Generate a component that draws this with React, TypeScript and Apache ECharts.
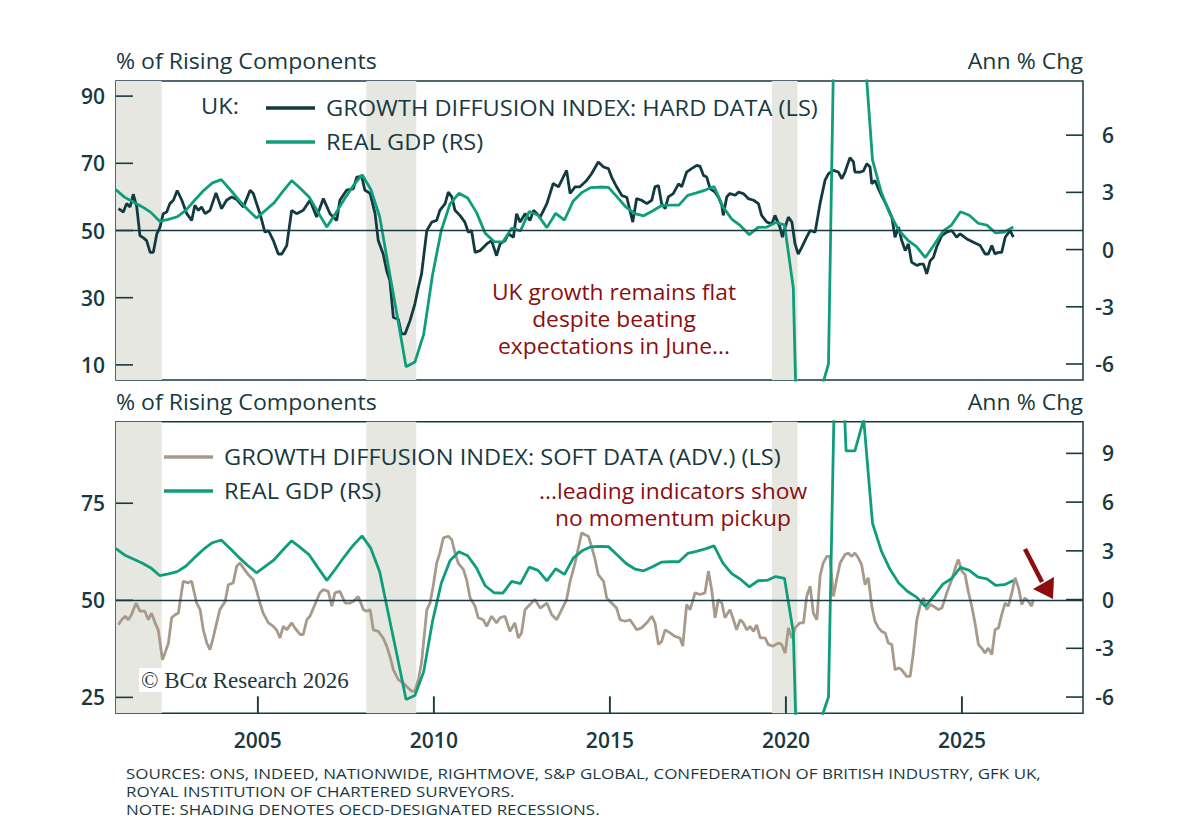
import React, { useEffect, useRef } from "react";
import * as echarts from "echarts";

// ---------- DATA ----------
const X_MIN = 2000.97;
const X_MAX = 2028.44;
const YEAR_TICKS = [2005, 2010, 2015, 2020, 2025];

const TOP_LEFT_TICKS = [10, 30, 50, 70, 90];
const TOP_RIGHT_TICKS = [-6, -3, 0, 3, 6];
const BOT_LEFT_TICKS = [25, 50, 75];
const BOT_RIGHT_TICKS = [-6, -3, 0, 3, 6, 9];

const RECESSIONS: [number, number][] = [
  [2000.97, 2002.27],
  [2008.08, 2009.5],
  [2019.6, 2020.33],
];

// Growth diffusion index: hard data (% of rising components)
const HARD_DATA: [number, number][] = [
  [2001.04, 56.5], [2001.18, 55.5], [2001.27, 58.0], [2001.37, 57.0], [2001.46, 60.8], [2001.56, 57.0],
  [2001.65, 48.5], [2001.75, 47.8], [2001.84, 47.0], [2001.94, 43.5], [2002.03, 43.5], [2002.13, 49.0],
  [2002.22, 51.0], [2002.31, 55.0], [2002.41, 55.5], [2002.5, 58.0], [2002.6, 59.0], [2002.71, 61.9],
  [2002.84, 59.0], [2002.98, 55.0], [2003.12, 53.0], [2003.21, 57.5], [2003.31, 56.0], [2003.4, 57.0],
  [2003.5, 55.0], [2003.64, 56.0], [2003.81, 61.2], [2003.97, 56.5], [2004.11, 59.0], [2004.26, 60.0],
  [2004.4, 59.2], [2004.59, 57.0], [2004.78, 62.0], [2004.87, 61.0], [2005.06, 55.0], [2005.2, 49.5],
  [2005.3, 50.0], [2005.44, 47.0], [2005.58, 43.0], [2005.68, 43.0], [2005.82, 45.5], [2005.96, 56.0],
  [2006.1, 55.0], [2006.29, 56.0], [2006.48, 59.0], [2006.67, 54.0], [2006.86, 59.5], [2007.05, 55.0],
  [2007.24, 53.0], [2007.33, 59.0], [2007.52, 62.0], [2007.71, 62.4], [2007.81, 65.9], [2007.95, 66.1],
  [2008.04, 62.0], [2008.19, 61.0], [2008.33, 55.0], [2008.42, 47.0], [2008.56, 43.0], [2008.66, 38.0],
  [2008.75, 35.1], [2008.85, 24.1], [2008.99, 23.6], [2009.08, 19.2], [2009.18, 19.2], [2009.32, 23.1],
  [2009.46, 28.1], [2009.56, 33.1], [2009.65, 37.1], [2009.8, 50.0], [2009.94, 52.5], [2010.08, 53.0],
  [2010.17, 56.0], [2010.32, 58.0], [2010.41, 61.4], [2010.51, 60.0], [2010.6, 56.0], [2010.74, 54.5],
  [2010.88, 52.5], [2010.98, 49.5], [2011.07, 50.0], [2011.17, 43.5], [2011.31, 44.0], [2011.5, 46.0],
  [2011.64, 47.0], [2011.78, 42.5], [2011.88, 46.0], [2012.02, 47.0], [2012.12, 49.0], [2012.26, 48.0],
  [2012.35, 55.0], [2012.45, 52.5], [2012.59, 55.0], [2012.73, 53.0], [2012.83, 56.0], [2013.02, 54.0],
  [2013.21, 58.0], [2013.39, 64.0], [2013.54, 63.0], [2013.63, 64.9], [2013.77, 67.9], [2013.87, 61.0],
  [2014.01, 63.0], [2014.15, 63.0], [2014.34, 64.9], [2014.48, 66.9], [2014.67, 70.4], [2014.82, 68.9],
  [2014.96, 68.4], [2015.05, 65.9], [2015.19, 63.0], [2015.34, 60.4], [2015.48, 59.9], [2015.57, 56.0],
  [2015.65, 52.5], [2015.76, 59.5], [2015.9, 59.0], [2016.05, 58.0], [2016.19, 59.0], [2016.28, 63.0],
  [2016.38, 63.4], [2016.47, 58.0], [2016.57, 56.5], [2016.66, 60.0], [2016.8, 61.0], [2016.95, 63.9],
  [2017.04, 63.0], [2017.18, 67.4], [2017.32, 68.4], [2017.47, 69.4], [2017.56, 69.1], [2017.66, 66.4],
  [2017.75, 65.9], [2017.85, 62.4], [2017.99, 61.4], [2018.08, 60.0], [2018.18, 57.5], [2018.22, 54.5],
  [2018.32, 60.0], [2018.41, 61.0], [2018.56, 60.5], [2018.65, 61.4], [2018.79, 61.0], [2018.93, 59.5],
  [2019.08, 59.0], [2019.22, 58.0], [2019.31, 54.5], [2019.46, 52.5], [2019.6, 52.0], [2019.69, 54.5],
  [2019.83, 51.0], [2019.9, 48.0], [2019.98, 51.0], [2020.07, 54.0], [2020.17, 52.5], [2020.26, 46.0],
  [2020.35, 43.0], [2020.45, 45.0], [2020.59, 48.0], [2020.69, 50.0], [2020.83, 49.5], [2020.97, 58.0],
  [2021.11, 64.9], [2021.21, 66.9], [2021.35, 67.9], [2021.49, 67.4], [2021.59, 65.4], [2021.68, 67.4],
  [2021.82, 71.7], [2021.92, 70.4], [2021.96, 67.4], [2022.11, 67.4], [2022.2, 67.7], [2022.3, 69.9],
  [2022.39, 68.9], [2022.44, 63.9], [2022.53, 64.9], [2022.63, 62.4], [2022.72, 60.4], [2022.86, 57.5],
  [2023.01, 54.0], [2023.1, 48.0], [2023.2, 51.0], [2023.29, 47.0], [2023.39, 44.0], [2023.48, 46.0],
  [2023.57, 40.6], [2023.72, 39.6], [2023.81, 40.0], [2023.91, 40.0], [2024.0, 37.1], [2024.1, 41.0],
  [2024.19, 42.0], [2024.28, 45.0], [2024.43, 48.5], [2024.57, 49.5], [2024.71, 50.0], [2024.85, 48.0],
  [2024.95, 49.0], [2025.14, 47.5], [2025.33, 46.5], [2025.52, 45.5], [2025.66, 43.0], [2025.75, 43.0],
  [2025.85, 45.5], [2025.94, 43.0], [2026.04, 43.5], [2026.13, 43.5], [2026.23, 48.0], [2026.37, 50.0],
  [2026.46, 48.0],
];

// Growth diffusion index: soft data (advanced)
const SOFT_DATA: [number, number][] = [
  [2001.04, 43.7], [2001.13, 45.0], [2001.23, 45.9], [2001.32, 45.0], [2001.41, 46.3], [2001.54, 49.3],
  [2001.65, 47.2], [2001.79, 47.2], [2001.89, 45.0], [2001.98, 46.7], [2002.08, 44.2], [2002.17, 42.4],
  [2002.29, 34.7], [2002.36, 36.4], [2002.46, 39.0], [2002.55, 45.5], [2002.65, 46.3], [2002.74, 46.7],
  [2002.88, 54.9], [2003.02, 54.5], [2003.12, 54.9], [2003.26, 49.3], [2003.36, 47.6], [2003.45, 42.4],
  [2003.55, 39.0], [2003.64, 37.3], [2003.73, 40.3], [2003.83, 44.2], [2003.92, 47.6], [2004.07, 49.7],
  [2004.16, 54.0], [2004.3, 54.5], [2004.4, 58.8], [2004.49, 59.6], [2004.59, 58.3], [2004.73, 56.6],
  [2004.87, 55.3], [2004.97, 52.3], [2005.06, 49.3], [2005.15, 46.7], [2005.3, 44.2], [2005.44, 43.3],
  [2005.53, 42.4], [2005.63, 40.3], [2005.72, 43.3], [2005.82, 42.4], [2005.96, 44.2], [2006.05, 42.9],
  [2006.2, 41.2], [2006.29, 41.2], [2006.39, 45.0], [2006.48, 45.9], [2006.62, 48.9], [2006.76, 51.9],
  [2006.86, 52.8], [2007.0, 52.3], [2007.1, 48.5], [2007.19, 51.9], [2007.33, 52.3], [2007.48, 49.3],
  [2007.62, 49.3], [2007.71, 49.7], [2007.85, 51.0], [2008.0, 47.6], [2008.09, 47.2], [2008.19, 47.6],
  [2008.28, 42.4], [2008.42, 42.0], [2008.56, 40.3], [2008.66, 38.2], [2008.75, 35.6], [2008.85, 32.1],
  [2008.99, 29.6], [2009.13, 28.7], [2009.27, 27.4], [2009.37, 26.6], [2009.46, 26.6], [2009.56, 29.6],
  [2009.65, 33.9], [2009.8, 47.6], [2009.89, 49.3], [2009.98, 53.6], [2010.08, 59.6], [2010.17, 62.2],
  [2010.27, 66.1], [2010.41, 66.5], [2010.51, 65.6], [2010.6, 62.2], [2010.69, 59.6], [2010.84, 57.9],
  [2010.93, 55.3], [2011.03, 50.6], [2011.17, 48.5], [2011.26, 45.5], [2011.4, 45.0], [2011.5, 43.3],
  [2011.64, 45.9], [2011.78, 44.2], [2011.88, 45.5], [2012.02, 45.9], [2012.16, 42.0], [2012.3, 44.2],
  [2012.4, 40.3], [2012.49, 41.6], [2012.59, 47.6], [2012.73, 48.9], [2012.87, 50.2], [2013.02, 48.0],
  [2013.21, 49.3], [2013.35, 46.3], [2013.49, 45.0], [2013.63, 47.6], [2013.77, 50.2], [2013.87, 54.9],
  [2014.01, 59.6], [2014.2, 67.4], [2014.29, 66.9], [2014.39, 66.5], [2014.48, 63.9], [2014.58, 60.5],
  [2014.67, 56.6], [2014.82, 54.9], [2014.91, 50.6], [2015.05, 49.3], [2015.19, 48.0], [2015.29, 45.0],
  [2015.43, 44.6], [2015.57, 45.0], [2015.67, 43.7], [2015.76, 42.4], [2015.9, 42.9], [2016.05, 44.2],
  [2016.19, 45.9], [2016.28, 44.2], [2016.38, 38.6], [2016.47, 39.4], [2016.57, 42.4], [2016.71, 41.6],
  [2016.85, 40.7], [2016.99, 40.3], [2017.07, 38.2], [2017.18, 48.9], [2017.28, 47.6], [2017.42, 51.9],
  [2017.56, 51.5], [2017.7, 51.9], [2017.8, 57.5], [2017.89, 52.8], [2017.99, 45.5], [2018.08, 50.2],
  [2018.18, 49.3], [2018.27, 45.5], [2018.41, 47.6], [2018.51, 45.0], [2018.6, 42.4], [2018.7, 45.0],
  [2018.79, 44.2], [2018.89, 42.4], [2018.98, 43.3], [2019.08, 42.0], [2019.17, 43.7], [2019.27, 40.3],
  [2019.41, 40.3], [2019.5, 38.6], [2019.64, 38.2], [2019.79, 39.0], [2019.88, 38.6], [2019.98, 36.4],
  [2020.07, 42.9], [2020.17, 40.3], [2020.26, 42.9], [2020.4, 44.2], [2020.5, 44.2], [2020.59, 51.0],
  [2020.69, 53.6], [2020.78, 46.7], [2020.88, 45.0], [2020.97, 56.2], [2021.06, 59.6], [2021.16, 61.3],
  [2021.25, 61.3], [2021.35, 51.0], [2021.44, 55.3], [2021.54, 59.6], [2021.68, 61.8], [2021.77, 62.2],
  [2021.87, 61.3], [2021.96, 62.2], [2022.06, 60.9], [2022.15, 59.2], [2022.25, 54.0], [2022.34, 55.8],
  [2022.44, 48.5], [2022.53, 44.6], [2022.63, 42.9], [2022.72, 42.0], [2022.82, 41.6], [2022.91, 39.0],
  [2023.01, 38.6], [2023.1, 32.1], [2023.2, 32.6], [2023.29, 32.1], [2023.43, 30.4], [2023.53, 30.4],
  [2023.62, 36.4], [2023.72, 45.0], [2023.81, 48.5], [2023.91, 50.6], [2024.0, 47.6], [2024.1, 48.9],
  [2024.19, 48.5], [2024.33, 47.6], [2024.43, 48.0], [2024.57, 51.9], [2024.71, 55.3], [2024.81, 58.3],
  [2024.9, 60.5], [2025.0, 57.5], [2025.09, 56.6], [2025.18, 52.3], [2025.28, 48.5], [2025.37, 44.2],
  [2025.47, 38.6], [2025.56, 37.7], [2025.66, 36.4], [2025.75, 37.7], [2025.85, 36.0], [2025.94, 42.4],
  [2026.04, 42.9], [2026.13, 46.3], [2026.23, 49.3], [2026.32, 48.5], [2026.42, 51.9], [2026.51, 55.8],
  [2026.61, 53.2], [2026.7, 48.9], [2026.79, 50.6], [2026.89, 49.7], [2026.98, 48.5], [2027.03, 50.2],
];

// Real GDP, annual % change, quarterly (first quarter plotted at 2000.96)
const GDP_FIRST_QUARTER = 2000.96;
const GDP_VALUES = [
  3.15,
  2.75, 2.5, 2.25, 1.95,
  1.48, 1.58, 1.72, 2.07,
  2.6, 3.1, 3.5, 3.67,
  3.15, 2.6, 2.1, 1.65,
  2.05, 2.45, 3.05, 3.62,
  3.2, 2.75, 1.95, 1.18,
  1.9, 2.65, 3.35, 3.92,
  3.15, 1.72, -0.9, -3.5,
  -6.15, -5.9, -4.45, -1.35,
  1.0, 2.4, 2.95, 2.7,
  1.95, 0.85, 0.42, 0.4,
  1.12, 0.98, 2.0, 1.8,
  1.15, 1.9, 1.55, 2.55,
  3.0, 3.25, 3.28, 3.26,
  2.75, 2.22, 1.88, 1.77,
  2.02, 2.3, 2.33, 2.33,
  2.84, 2.97, 3.12, 3.31,
  2.25, 1.6, 1.25, 0.78,
  1.16, 1.18, 1.42, 1.3,
  -2.0, -21.0, -8.6, -7.6,
  -6.0, 22.0, 9.15, 9.15,
  11.1, 4.7, 3.0, 1.85,
  1.0, 0.5, 0.15, -0.42,
  0.25, 0.95, 1.3, 1.98,
  1.8, 1.38, 1.28, 0.87,
  0.92, 1.18,
];
const GDP_DATES = GDP_VALUES.map((_, i) => GDP_FIRST_QUARTER + i * 0.25);

// ---------- STYLE ----------
const INK = "#18393f";
const DARK_LINE = "#123a40";
const GREEN = "#0f9e7b";
const TAN = "#a89a8b";
const SHADE = "#e6e7e1";
const RED = "#8c0d0d";
const FONT = "'Open Sans', Lato, sans-serif";

const GDP_DATA = GDP_DATES.map((d, i) => [d, GDP_VALUES[i]]);

// panel geometry and axis ranges
const GRID_LEFT = 116;
const GRID_W = 967;
const TOP_GRID_TOP = 81;
const TOP_GRID_H = 299;
const BOT_GRID_TOP = 421.7;
const BOT_GRID_H = 291.6;
const TOP_L = [5.5, 94.5];
const TOP_R = [-6.84, 8.84];
const BOT_L = [20.9, 96.0];
const BOT_R = [-7.0, 10.95];
const TICK_LEN = 17;

function recessionAreas() {
  return RECESSIONS.map(([a, b]) => [{ xAxis: a }, { xAxis: b }]);
}

// inward tick marks along the panel frames (axis decorations)
function tickMarks() {
  const els: any[] = [];
  const tick = (x1: number, y1: number, x2: number, y2: number, w = 1.6) =>
    els.push({ type: "line", z: 90, shape: { x1, y1, x2, y2 }, style: { stroke: INK, lineWidth: w } });
  const yPos = (v: number, range: number[], top: number, h: number) =>
    top + ((range[1] - v) / (range[1] - range[0])) * h;
  const right = GRID_LEFT + GRID_W;
  TOP_LEFT_TICKS.forEach((v) => {
    const y = yPos(v, TOP_L, TOP_GRID_TOP, TOP_GRID_H);
    tick(GRID_LEFT, y, GRID_LEFT + TICK_LEN, y);
  });
  TOP_RIGHT_TICKS.forEach((v) => {
    const y = yPos(v, TOP_R, TOP_GRID_TOP, TOP_GRID_H);
    tick(right - TICK_LEN, y, right, y);
  });
  BOT_LEFT_TICKS.forEach((v) => {
    const y = yPos(v, BOT_L, BOT_GRID_TOP, BOT_GRID_H);
    tick(GRID_LEFT, y, GRID_LEFT + TICK_LEN, y);
  });
  BOT_RIGHT_TICKS.forEach((v) => {
    const y = yPos(v, BOT_R, BOT_GRID_TOP, BOT_GRID_H);
    tick(right - TICK_LEN, y, right, y);
  });
  const base = BOT_GRID_TOP + BOT_GRID_H;
  YEAR_TICKS.forEach((yr) => {
    const x = GRID_LEFT + ((yr - X_MIN) / (X_MAX - X_MIN)) * GRID_W;
    tick(x, base, x, base - TICK_LEN, 1.9);
  });
  return els;
}

function buildOption() {
  const yLabel = (align: string, margin: number, ticks: number[]) => ({
    customValues: ticks,
    color: INK,
    fontFamily: FONT,
    fontSize: 21,
    fontWeight: 600,
    margin,
    align,
  });
  const commonY = {
    type: "value",
    axisLine: { show: false },
    axisTick: { show: false },
    splitLine: { show: false },
  };
  const text = (
    t: string,
    x: number,
    y: number,
    size: number,
    color: string,
    align = "left",
    sx = 1,
    extra: any = {},
    family = FONT
  ) => ({
    type: "text",
    x,
    y,
    scaleX: sx,
    z: 100,
    style: {
      text: t,
      fill: color,
      font: `normal ${size}px ${family}`,
      textAlign: align,
      textVerticalAlign: "middle",
      align,
      verticalAlign: "middle",
      ...extra,
    },
  });
  const seg = (x1: number, x2: number, y: number, color: string) => ({
    type: "line",
    z: 100,
    shape: { x1, y1: y, x2, y2: y },
    style: { stroke: color, lineWidth: 3.5 },
  });

  const TITLE_SX = 1.1;
  const LEG_SX = 1.125;
  const ANN_SX = 1.06;
  const SRC_SX = 1.13;

  return {
    animation: false,
    backgroundColor: "#ffffff",
    textStyle: { fontFamily: FONT },
    grid: [
      {
        left: GRID_LEFT, top: TOP_GRID_TOP, width: GRID_W, height: TOP_GRID_H,
        show: true, borderColor: INK, borderWidth: 1.5, backgroundColor: "transparent",
      },
      {
        left: GRID_LEFT, top: BOT_GRID_TOP, width: GRID_W, height: BOT_GRID_H,
        show: true, borderColor: INK, borderWidth: 1.5, backgroundColor: "transparent",
      },
    ],
    xAxis: [
      {
        type: "value", gridIndex: 0, min: X_MIN, max: X_MAX,
        axisLine: { show: false, onZero: false }, axisTick: { show: false },
        axisLabel: { show: false }, splitLine: { show: false },
      },
      {
        type: "value", gridIndex: 1, min: X_MIN, max: X_MAX, position: "bottom",
        axisLine: { show: false, onZero: false },
        axisTick: { show: false },
        axisLabel: {
          customValues: YEAR_TICKS,
          formatter: (v: number) => String(v),
          color: INK, fontFamily: FONT, fontSize: 21, fontWeight: 600, margin: 16,
        },
        splitLine: { show: false },
      },
    ],
    yAxis: [
      {
        ...commonY, gridIndex: 0, position: "left", min: TOP_L[0], max: TOP_L[1],
        axisLabel: yLabel("right", 11, TOP_LEFT_TICKS),
      },
      {
        ...commonY, gridIndex: 0, position: "right", min: TOP_R[0], max: TOP_R[1],
        axisLabel: yLabel("right", 31, TOP_RIGHT_TICKS),
      },
      {
        ...commonY, gridIndex: 1, position: "left", min: BOT_L[0], max: BOT_L[1],
        axisLabel: yLabel("right", 11, BOT_LEFT_TICKS),
      },
      {
        ...commonY, gridIndex: 1, position: "right", min: BOT_R[0], max: BOT_R[1],
        axisLabel: yLabel("right", 31, BOT_RIGHT_TICKS),
      },
    ],
    series: [
      {
        name: "shade-top", type: "line", xAxisIndex: 0, yAxisIndex: 0, z: 1,
        data: HARD_DATA, showSymbol: false, silent: true,
        lineStyle: { opacity: 0 },
        markArea: { silent: true, itemStyle: { color: SHADE }, data: recessionAreas() },
        markLine: {
          silent: true, symbol: "none", label: { show: false },
          lineStyle: { color: INK, width: 1.3, type: "solid" },
          data: [{ yAxis: 50 }],
        },
      },
      {
        name: "GROWTH DIFFUSION INDEX: HARD DATA (LS)", type: "line",
        xAxisIndex: 0, yAxisIndex: 0, z: 3,
        data: HARD_DATA, showSymbol: false,
        lineStyle: { color: DARK_LINE, width: 2.8 }, itemStyle: { color: DARK_LINE },
      },
      {
        name: "REAL GDP (RS)", type: "line", xAxisIndex: 0, yAxisIndex: 1, z: 4,
        data: GDP_DATA, showSymbol: false,
        lineStyle: { color: GREEN, width: 2.8 }, itemStyle: { color: GREEN },
      },
      {
        name: "shade-bottom", type: "line", xAxisIndex: 1, yAxisIndex: 2, z: 1,
        data: SOFT_DATA, showSymbol: false, silent: true,
        lineStyle: { opacity: 0 },
        markArea: { silent: true, itemStyle: { color: SHADE }, data: recessionAreas() },
        markLine: {
          silent: true, symbol: "none", label: { show: false },
          lineStyle: { color: INK, width: 1.3, type: "solid" },
          data: [{ yAxis: 50 }],
        },
      },
      {
        name: "GROWTH DIFFUSION INDEX: SOFT DATA (ADV.) (LS)", type: "line",
        xAxisIndex: 1, yAxisIndex: 2, z: 3,
        data: SOFT_DATA, showSymbol: false,
        lineStyle: { color: TAN, width: 2.8 }, itemStyle: { color: TAN },
      },
      {
        name: "REAL GDP (RS) ", type: "line", xAxisIndex: 1, yAxisIndex: 3, z: 4,
        data: GDP_DATA, showSymbol: false,
        lineStyle: { color: GREEN, width: 2.8 }, itemStyle: { color: GREEN },
      },
    ],
    graphic: [
      ...tickMarks(),
      // axis titles
      text("% of Rising Components", 116, 60, 21, INK, "left", TITLE_SX),
      text("Ann % Chg", 1083, 60, 21, INK, "right", TITLE_SX),
      text("% of Rising Components", 116, 401.5, 21, INK, "left", TITLE_SX),
      text("Ann % Chg", 1083, 401.5, 21, INK, "right", TITLE_SX),
      // top legend
      text("UK:", 201, 106.5, 21, INK, "left", LEG_SX),
      seg(266, 315, 108, DARK_LINE),
      text("GROWTH DIFFUSION INDEX: HARD DATA (LS)", 326, 108, 21, INK, "left", LEG_SX),
      seg(266, 315, 142, GREEN),
      text("REAL GDP (RS)", 326, 142, 21, INK, "left", LEG_SX),
      // bottom legend
      seg(164, 213, 457, TAN),
      text("GROWTH DIFFUSION INDEX: SOFT DATA (ADV.) (LS)", 224, 457, 21, INK, "left", LEG_SX),
      seg(164, 213, 491, GREEN),
      text("REAL GDP (RS)", 224, 491, 21, INK, "left", LEG_SX),
      // annotations
      text("UK growth remains flat\ndespite beating\nexpectations in June...", 614, 318.5, 21.5, RED, "center", ANN_SX, { lineHeight: 26.8 }),
      text("...leading indicators show\nno momentum pickup", 673, 504, 21.5, RED, "center", ANN_SX, { lineHeight: 27.5 }),
      // arrow
      {
        type: "line", z: 100,
        shape: { x1: 1025, y1: 549, x2: 1042, y2: 582 },
        style: { stroke: RED, lineWidth: 4.5 },
      },
      {
        type: "polygon", z: 100,
        shape: { points: [[1033, 589], [1054, 577], [1053, 599]] },
        style: { fill: RED },
      },
      // copyright
      {
        type: "rect", z: 99,
        shape: { x: 139, y: 668, width: 212, height: 24 },
        style: { fill: "#ffffff" },
      },
      text("© BCα Research 2026", 141, 680, 23, "#1e3a3f", "left", 1, {}, "'Liberation Serif', 'DejaVu Serif', serif"),
      // sources
      text("SOURCES: ONS, INDEED, NATIONWIDE, RIGHTMOVE, S&P GLOBAL, CONFEDERATION OF BRITISH INDUSTRY, GFK UK,", 126, 773, 15, INK, "left", SRC_SX),
      text("ROYAL INSTITUTION OF CHARTERED SURVEYORS.", 126, 791, 15, INK, "left", SRC_SX),
      text("NOTE: SHADING DENOTES OECD-DESIGNATED RECESSIONS.", 126, 809, 15, INK, "left", SRC_SX),
    ],
  };
}

export default function App() {
  const ref = useRef<HTMLDivElement>(null);
  useEffect(() => {
    document.body.style.margin = "0";
    if (!ref.current) return;
    const chart = echarts.init(ref.current, undefined, { renderer: "svg" });
    chart.setOption(buildOption() as any);
    return () => chart.dispose();
  }, []);
  return <div ref={ref} style={{ width: 1200, height: 830, background: "#fff" }} />;
}
